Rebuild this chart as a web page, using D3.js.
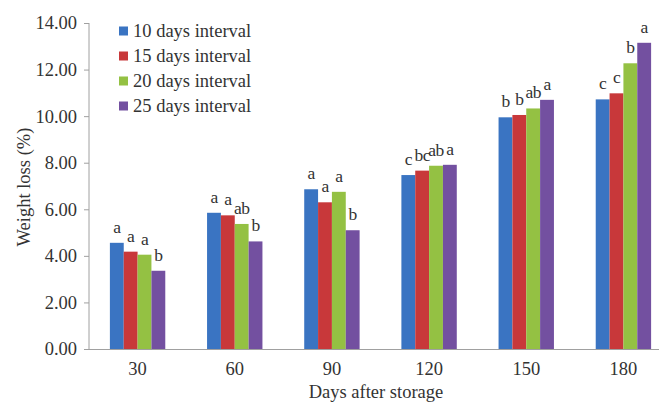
<!DOCTYPE html>
<html><head><meta charset="utf-8">
<script src="https://cdn.jsdelivr.net/npm/d3@7"></script>
<style>body{margin:0;background:#fff}svg{display:block}</style>
</head><body><div id="chart"></div>
<script>
const categories = ["30","60","90","120","150","180"];
const seriesNames = ["10 days interval","15 days interval","20 days interval","25 days interval"];
const colors = ["#3a74c2","#c8383a","#94c143","#7350a0"];
const s10 = [4.56,5.85,6.86,7.47,9.95,10.72];
const s15 = [4.18,5.74,6.30,7.66,10.05,10.98];
const s20 = [4.05,5.37,6.75,7.87,10.33,12.27];
const s25 = [3.36,4.62,5.10,7.91,10.70,13.15];
const l10 = ["a","a","a","c","b","c"];
const l15 = ["a","a","a","bc","b","c"];
const l20 = ["a","ab","a","ab","ab","b"];
const l25 = ["b","b","b","a","a","a"];
const yTicks = [0,2,4,6,8,10,12,14];

const FONT='Liberation Serif';
const FS=18.5;
const TXT='#333';
const values=[s10,s15,s20,s25], letters=[l10,l15,l20,l25];
const W=659,H=402;
const svg=d3.select("#chart").append("svg").attr("width",W).attr("height",H);
const y=d3.scaleLinear().domain([0,14]).range([349,23]);
const x0=d3.scaleBand().domain(categories).range([89,672]).paddingInner(0.43).paddingOuter(0.215);
const x1=d3.scaleBand().domain(d3.range(4)).range([0,x0.bandwidth()]);

const ya=svg.append("g").attr("transform","translate(89,0)")
  .call(d3.axisLeft(y).tickValues(yTicks).tickFormat(d3.format(".2f")).tickSize(5).tickPadding(7));
ya.attr("font-family",FONT).attr("font-size",FS);
ya.select(".domain").attr("stroke","#a0a0a0").attr("d","M0,23V349");
ya.selectAll(".tick line").attr("stroke","#a0a0a0");
ya.selectAll("text").attr("fill",TXT).attr("font-family",FONT).attr("font-size",FS);

const data=categories.map((c,i)=>({c,vals:values.map((v,k)=>({k,v:v[i],l:letters[k][i]}))}));
const g=svg.selectAll(".grp").data(data).join("g").attr("transform",d=>`translate(${x0(d.c)},0)`);
g.selectAll("rect").data(d=>d.vals).join("rect")
  .attr("x",d=>x1(d.k)).attr("width",x1.bandwidth())
  .attr("y",d=>y(d.v)).attr("height",d=>y(0)-y(d.v))
  .attr("fill",d=>colors[d.k]);
g.selectAll("text").data(d=>d.vals).join("text")
  .attr("x",d=>x1(d.k)+x1.bandwidth()/2).attr("y",d=>y(d.v)-10)
  .attr("text-anchor","middle").attr("font-size",17.5).attr("fill",TXT)
  .attr("font-family",FONT).attr("letter-spacing",-0.6).text(d=>d.l);

const xa=svg.append("g").attr("transform","translate(0,349)")
  .call(d3.axisBottom(x0).tickSize(0));
xa.attr("font-family",FONT).attr("font-size",FS);
xa.select(".domain").attr("stroke","#a0a0a0").attr("d","M89,0.5H659");
xa.selectAll("text").attr("fill",TXT).attr("font-family",FONT).attr("font-size",FS).attr("y",26).attr("dy",null);

svg.append("text").attr("x",376).attr("y",398).attr("text-anchor","middle")
  .attr("font-family",FONT).attr("font-size",FS).attr("fill",TXT).text("Days after storage");
svg.append("text").attr("transform","translate(30,187) rotate(-90)").attr("text-anchor","middle")
  .attr("font-family",FONT).attr("font-size",FS).attr("fill",TXT).text("Weight loss (%)");

const lg=svg.append("g").selectAll("g").data(seriesNames).join("g")
  .attr("transform",(d,i)=>`translate(119,${31+i*25})`);
lg.append("rect").attr("x",0).attr("y",-4.5).attr("width",9).attr("height",9).attr("fill",(d,i)=>colors[i]);
lg.append("text").attr("x",14).attr("y",6).attr("font-family",FONT).attr("font-size",FS).attr("fill",TXT).text(d=>d);
</script></body></html>
